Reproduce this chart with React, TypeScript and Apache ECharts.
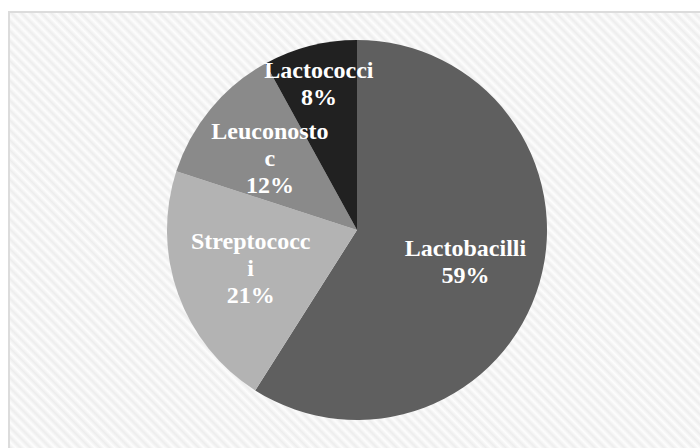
import React, { useEffect, useRef } from "react";
import * as echarts from "echarts";

// Lactic acid bacteria composition (share of total, %)
const categories = ["Lactobacilli", "Streptococci", "Leuconostoc", "Lactococci"];
const shares = [59, 21, 12, 8];
// Label text as it wraps inside each slice
const labelNames = ["Lactobacilli", "Streptococc\ni", "Leuconosto\nc", "Lactococci"];
const sliceColors = ["#5f5f5f", "#b3b3b3", "#8a8a8a", "#212121"];

export default function App() {
  const ref = useRef<HTMLDivElement>(null);

  useEffect(() => {
    if (!ref.current) return;
    const chart = echarts.init(ref.current, null, { renderer: "svg" });

    const data = categories.map((name, i) => ({
      name,
      value: shares[i],
      itemStyle: { color: sliceColors[i] },
    }));

    const labelData = categories.map((name, i) => ({
      name,
      value: shares[i],
      label: i === 3 ? { offset: [-10, -37] } : {},
    }));

    chart.setOption({
      animation: false,
      backgroundColor: "transparent",
      textStyle: { fontFamily: "Times New Roman, Liberation Serif, serif" },
      series: [
        {
          type: "pie",
          center: [357, 230],
          radius: [0, 190],
          startAngle: 90,
          clockwise: true,
          silent: true,
          label: { show: false },
          labelLine: { show: false },
          data,
        },
        {
          // transparent ring carrying the slice labels
          type: "pie",
          center: [357, 230],
          radius: [30, 190],
          startAngle: 90,
          clockwise: true,
          silent: true,
          itemStyle: { color: "rgba(0,0,0,0)" },
          labelLine: { show: false },
          label: {
            show: true,
            position: "inside",
            color: "#ffffff",
            fontFamily: "Times New Roman, Liberation Serif, serif",
            fontWeight: "bold",
            fontSize: 24,
            lineHeight: 27,
            align: "center",
            formatter: (p: any) => `${labelNames[p.dataIndex]}\n${Math.round(p.value)}%`,
          },
          data: labelData,
        },
      ],
    });

    return () => chart.dispose();
  }, []);

  return (
    <div style={{ position: "fixed", left: 0, top: 0, width: 700, height: 448, background: "#ffffff", overflow: "hidden" }}>
      <div
        style={{
          position: "absolute",
          left: 8,
          top: 11,
          right: -4,
          bottom: -4,
          borderLeft: "2px solid #dcdcdc",
          borderTop: "2px solid #dcdcdc",
          background:
            "repeating-linear-gradient(45deg, #fdfdfd 0px, #ededed 3.5px, #fdfdfd 7px)",
        }}
      />
      <div ref={ref} style={{ position: "absolute", left: 0, top: 0, width: 700, height: 448 }} />
    </div>
  );
}
